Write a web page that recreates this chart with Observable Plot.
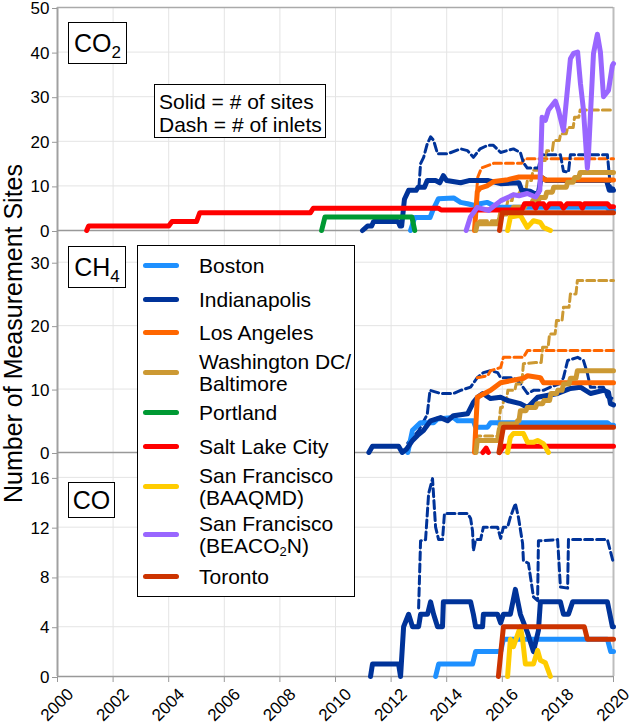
<!DOCTYPE html>
<html>
<head>
<meta charset="utf-8">
<script src="https://cdn.jsdelivr.net/npm/d3@7"></script>
<script src="https://cdn.jsdelivr.net/npm/@observablehq/plot@0.6"></script>
<style>
  html, body { margin: 0; padding: 0; background: #fff; }
  body { font-family: "Liberation Sans", Arial, sans-serif; color: #000; }
  #wrap { position: relative; width: 633px; height: 728px; overflow: hidden; background: #fff; }
  #wrap svg { position: absolute; left: 0; }
  .box { position: absolute; background: #fff; border: 1.5px solid #000; box-sizing: border-box; }
  .plabel { font-size: 25px; line-height: 1; padding: 0; display: flex; align-items: center; justify-content: center; }
  .plabel sub { font-size: 17px; vertical-align: -6px; line-height: 0; }
  .note { font-size: 21px; line-height: 23px; padding: 5px 0 0 4px; white-space: nowrap; }
  .legend { font-size: 21px; }
  .legend .sw { position: absolute; left: 5px; width: 36px; height: 5px; border-radius: 3px; }
  .legend .tx { position: absolute; left: 61px; line-height: 22px; white-space: nowrap; }
  .legend sub { font-size: 13px; vertical-align: -3px; line-height: 0; }
  #ylab { position: absolute; left: -162px; top: 321px; width: 350px; text-align: center; font-size: 25px; line-height: 25px; transform: rotate(-90deg); white-space: nowrap; }
</style>
</head>
<body>
<div id="wrap"></div>
<script>
// ---------- categories, ticks, colours ----------
const cities = ["Boston", "Indianapolis", "Los Angeles", "Washington DC/Baltimore", "Portland",
  "Salt Lake City", "San Francisco (BAAQMD)", "San Francisco (BEACO2N)", "Toronto"];
const cityColors = ["#1e90ff", "#003399", "#ff6600", "#cc9933", "#009933",
  "#ff0000", "#ffcc00", "#9966ff", "#cc3300"];
const legendLabels = ["Boston", "Indianapolis", "Los Angeles", "Washington DC/<br>Baltimore", "Portland",
  "Salt Lake City", "San Francisco<br>(BAAQMD)", "San Francisco<br>(BEACO<sub>2</sub>N)", "Toronto"];
const xTicks = [2000, 2002, 2004, 2006, 2008, 2010, 2012, 2014, 2016, 2018, 2020];
const co2Ticks = [0, 10, 20, 30, 40, 50];
const ch4Ticks = [0, 10, 20, 30];
const coTicks = [0, 4, 8, 12, 16];

// ---------- CO2 : [year, value] ----------
const co2_boston = [[2012.7,0],[2012.85,2.9],[2013.4,2.9],[2013.5,4.5],[2013.7,7.1],[2014.25,7.3],[2014.5,6.3],[2014.75,6],[2015.0,5.6],[2015.2,6],[2015.45,6.3],[2015.7,5.6],[2015.95,5.2],[2019.75,5.2],[2019.85,4.6],[2020,4.6]];
const co2_indy_sites = [[2010.97,0],[2011.15,1],[2011.3,1],[2011.37,2],[2012.25,2],[2012.32,1],[2012.38,1],[2012.48,7],[2012.63,9],[2012.9,9],[2012.97,9.7],[2013.2,9.7],[2013.3,11.2],[2013.6,11.2],[2013.75,10.7],[2013.88,12.3],[2014.0,11.2],[2014.5,10.7],[2014.8,11.2],[2015.5,11.2],[2015.94,10.5],[2016.6,10.7],[2016.7,9],[2017.0,8.8],[2017.15,8.3],[2017.3,8.5],[2017.4,12],[2017.6,11.2],[2019.75,11.2],[2019.85,9],[2020,9]];
const co2_indy_inlets = [[2013.0,9.7],[2013.06,15],[2013.17,16.4],[2013.3,19.4],[2013.42,21],[2013.53,20.2],[2013.67,17.2],[2014.03,17.2],[2014.5,18.3],[2014.75,17.9],[2014.96,16.4],[2015.2,18.3],[2015.47,19.1],[2015.68,19.1],[2015.94,17.5],[2016.4,18.3],[2016.65,17.5],[2016.76,15.2],[2016.9,14],[2017.3,14],[2017.4,17],[2018.09,17],[2018.2,13.3],[2018.38,13.1],[2018.45,17],[2019.78,17],[2019.89,9.7],[2020,9.5]];
const co2_la_sites = [[2015.0,0],[2015.1,8.7],[2015.2,9.5],[2015.45,10],[2015.7,11],[2016.2,11.4],[2016.6,12],[2017.4,12],[2017.55,11.3],[2020,11.3]];
const co2_la_inlets = [[2015.08,9],[2015.12,12],[2015.25,14],[2015.5,14.6],[2015.7,15.1],[2016.7,15.1],[2016.8,16.1],[2020,16.1]];
const co2_dc_sites = [[2015.05,0],[2015.1,1.5],[2015.85,1.5],[2015.95,3.7],[2016.15,3.7],[2016.2,4.5],[2016.35,4.5],[2016.4,5.2],[2016.8,5.2],[2016.85,6],[2017.05,6],[2017.1,6.7],[2017.3,6.7],[2017.35,7.4],[2017.55,7.4],[2017.6,8.6],[2017.8,8.6],[2017.85,9.7],[2018.3,9.7],[2018.35,10.8],[2018.55,10.8],[2018.6,11.9],[2018.75,11.9],[2018.8,13],[2020,13]];
const co2_dc_inlets = [[2015.05,0],[2015.1,2.2],[2015.85,2.2],[2015.95,5.2],[2016.15,5.2],[2016.2,6.7],[2016.35,6.7],[2016.4,8.2],[2016.6,8.2],[2016.65,9],[2016.85,9],[2016.9,11.2],[2017.05,11.2],[2017.1,13.5],[2017.35,13.5],[2017.4,15.7],[2017.55,15.7],[2017.6,17.9],[2017.8,17.9],[2017.85,20.2],[2018.05,20.2],[2018.1,21.7],[2018.3,21.7],[2018.35,23.1],[2018.55,23.1],[2018.6,25.4],[2018.75,25.4],[2018.8,27],[2020,27]];
const co2_portland = [[2009.5,0],[2009.62,3],[2012.75,3],[2012.85,0]];
const co2_slc = [[2001.05,0],[2001.12,1],[2004.0,1],[2004.12,2],[2005.0,2],[2005.12,4],[2009.1,4],[2009.2,5],[2013.7,5],[2013.8,4.6],[2016.7,4.6],[2016.8,6],[2017.1,6],[2017.2,5],[2017.27,6],[2017.48,6],[2017.58,5],[2017.7,6],[2018.1,6],[2018.2,5],[2018.33,6],[2018.8,6],[2018.88,5],[2018.95,6],[2019.78,6],[2019.88,5.3],[2020,5.3]];
const co2_baaqmd = [[2016.19,0],[2016.29,3],[2016.65,3.4],[2016.76,2.2],[2016.9,0.7],[2017.12,2.2],[2017.37,1.8],[2017.48,0.7],[2017.73,0]];
const co2_beacon = [[2014.7,0],[2014.85,3],[2015.1,5.2],[2015.5,4.5],[2015.7,5.5],[2015.95,6.7],[2016.4,8],[2016.6,7.8],[2016.9,8.3],[2017.2,7.5],[2017.35,9],[2017.43,25.4],[2017.55,24.7],[2017.66,27],[2017.91,29],[2018.02,27],[2018.2,22.4],[2018.45,38.5],[2018.56,39.7],[2018.71,40],[2018.81,33],[2018.92,27],[2019.06,14],[2019.1,17],[2019.28,39.7],[2019.42,44],[2019.53,40],[2019.64,30],[2019.82,31.4],[2019.96,37],[2020,37.4]];
const co2_toronto = [[2015.9,0],[2016.0,4],[2020,4]];

// ---------- CH4 ----------
const ch4_boston = [[2012.6,0],[2012.77,3.5],[2013.06,4.7],[2013.53,4.7],[2013.67,5.3],[2014.24,5.5],[2014.39,5],[2014.96,5],[2015.04,4],[2015.47,4],[2015.58,4.7],[2019.78,4.7],[2019.89,4.3],[2020,4.3]];
const ch4_indy_sites = [[2011.2,0],[2011.33,1],[2012.27,1],[2012.4,0],[2012.55,0.5],[2012.77,1.9],[2012.95,2.7],[2013.17,3.5],[2013.42,5],[2013.78,5.5],[2014.03,5],[2014.24,5.8],[2014.75,6.1],[2014.96,7.9],[2015.11,8.7],[2015.3,9.3],[2015.58,8.5],[2015.94,8.7],[2016.19,8.2],[2016.65,7.7],[2016.91,7.1],[2017.27,8.7],[2017.99,9.3],[2018.45,10.1],[2018.81,10.3],[2019.17,9.3],[2019.64,9.8],[2019.82,9.5],[2019.89,7.7],[2020,7.5]];
const ch4_indy_inlets = [[2012.6,1.5],[2012.8,2.5],[2013.0,3.5],[2013.3,6],[2013.4,9.8],[2013.78,9.3],[2014.24,9.3],[2014.5,9.8],[2014.86,10.3],[2015.1,11.8],[2015.32,12.6],[2015.58,12.9],[2015.83,12.6],[2015.94,11.8],[2016.4,11.8],[2016.65,10.9],[2016.91,9.3],[2017.12,9.8],[2017.48,9.8],[2017.73,10.3],[2018.09,10.9],[2018.2,11.8],[2018.35,14.5],[2018.71,15],[2018.92,14.5],[2019.06,12.5],[2019.17,10.3],[2019.64,10.3],[2019.78,8.7],[2020,8.5]];
const ch4_la_sites = [[2015.0,0],[2015.1,8.7],[2015.58,9.8],[2015.94,11],[2016.76,11.7],[2016.91,12.1],[2017.37,11.8],[2017.48,11],[2020,11]];
const ch4_la_inlets = [[2015.1,11.8],[2015.47,12.1],[2015.58,12.9],[2015.94,13.4],[2016.04,15],[2016.76,15],[2016.91,16.1],[2020,16.1]];
const ch4_dc_sites = [[2015.05,0],[2015.1,1.9],[2015.83,1.9],[2015.94,4.5],[2016.5,4.5],[2016.55,5],[2016.6,5],[2016.65,6.6],[2016.85,6.6],[2016.9,7.1],[2017.2,7.1],[2017.25,7.7],[2017.45,7.7],[2017.5,8.2],[2017.7,8.2],[2017.75,9.3],[2017.95,9.3],[2018.0,9.8],[2018.15,9.8],[2018.2,10.8],[2018.4,10.8],[2018.45,11.7],[2018.65,11.7],[2018.7,12.9],[2020,12.9]];
const ch4_dc_inlets = [[2015.05,0],[2015.1,2.6],[2015.83,2.6],[2015.94,7.1],[2016.0,7.1],[2016.05,8.2],[2016.15,8.2],[2016.2,9.8],[2016.45,9.8],[2016.5,10.8],[2016.7,10.8],[2016.76,14],[2017.2,14.2],[2017.4,14.2],[2017.45,16.6],[2017.65,16.6],[2017.7,18.7],[2017.9,18.7],[2017.95,20.8],[2018.15,20.8],[2018.2,22.9],[2018.4,22.9],[2018.45,25],[2018.65,25],[2018.7,27.1],[2020,27.1]];
const ch4_slc = [[2015.3,0],[2015.42,0.7],[2015.5,0],[2015.55,null],[2015.9,0],[2016.04,1],[2020,1]];
const ch4_baaqmd = [[2016.19,0],[2016.29,2.4],[2016.4,3],[2016.76,3],[2016.91,1.6],[2017.12,1.6],[2017.27,1.9],[2017.48,1.4],[2017.66,0]];
const ch4_toronto = [[2015.88,0],[2016.04,4],[2020,4]];

// ---------- CO ----------
const co_boston = [[2013.6,0],[2013.71,1],[2014.93,1],[2015.04,2],[2015.94,2],[2016.04,3],[2019.78,3],[2019.9,2],[2020,2]];
const co_indy_sites = [[2011.26,0],[2011.33,1],[2012.27,1],[2012.34,0],[2012.45,4],[2012.63,5],[2012.77,4],[2012.99,4],[2013.06,5],[2013.31,5],[2013.42,6],[2013.53,5],[2013.67,4],[2013.85,4],[2013.88,6],[2014.86,6],[2014.96,5],[2015.04,4],[2015.29,4],[2015.32,5],[2015.83,5],[2015.94,4.3],[2016.04,5],[2016.29,5],[2016.47,7],[2016.65,5],[2016.91,3.5],[2017.12,2],[2017.3,3.7],[2017.37,6],[2018.09,6],[2018.2,5],[2018.38,5],[2018.53,6],[2019.78,6],[2019.96,4],[2020,4]];
const co_indy_inlets = [[2012.99,5.5],[2013.06,10.9],[2013.24,11],[2013.35,14.7],[2013.49,15.9],[2013.6,12],[2013.71,11],[2013.85,11],[2013.92,13.1],[2014.75,13.1],[2014.86,12.7],[2014.93,11.7],[2014.96,10.1],[2015.04,11],[2015.22,11],[2015.32,12],[2015.83,12],[2015.94,11.1],[2016.04,12],[2016.19,12],[2016.29,12.8],[2016.47,13.9],[2016.58,12.8],[2016.73,10.7],[2016.76,9.3],[2016.94,9.1],[2017.12,6.4],[2017.27,6.1],[2017.3,10.9],[2017.99,11],[2018.09,7.2],[2018.35,7.1],[2018.38,11],[2019.78,11],[2020,9.1]];
const co_baaqmd = [[2016.19,0],[2016.29,3],[2016.4,2.4],[2016.65,4],[2016.73,3],[2016.83,1],[2017.12,1],[2017.27,2.1],[2017.37,1.3],[2017.55,1.1],[2017.73,0]];
const co_toronto = [[2015.86,0],[2016.04,4],[2018.95,4],[2019.06,3],[2020,3]];

// ---------- tables ----------
function toRows(list) {
  return list.flatMap(([city, kind, pts]) =>
    pts.map(([year, value]) => ({city, kind, id: city + "|" + kind, year, value})));
}
const co2Rows = toRows([
  ["Los Angeles", "inlets", co2_la_inlets], ["Washington DC/Baltimore", "inlets", co2_dc_inlets],
  ["Indianapolis", "inlets", co2_indy_inlets],
  ["Boston", "sites", co2_boston], ["Indianapolis", "sites", co2_indy_sites],
  ["Los Angeles", "sites", co2_la_sites], ["Washington DC/Baltimore", "sites", co2_dc_sites],
  ["Portland", "sites", co2_portland], ["Salt Lake City", "sites", co2_slc],
  ["San Francisco (BAAQMD)", "sites", co2_baaqmd], ["San Francisco (BEACO2N)", "sites", co2_beacon],
  ["Toronto", "sites", co2_toronto]
]);
const ch4Rows = toRows([
  ["Indianapolis", "inlets", ch4_indy_inlets], ["Los Angeles", "inlets", ch4_la_inlets],
  ["Washington DC/Baltimore", "inlets", ch4_dc_inlets],
  ["Boston", "sites", ch4_boston], ["Indianapolis", "sites", ch4_indy_sites],
  ["Los Angeles", "sites", ch4_la_sites], ["Washington DC/Baltimore", "sites", ch4_dc_sites],
  ["Salt Lake City", "sites", ch4_slc], ["San Francisco (BAAQMD)", "sites", ch4_baaqmd],
  ["Toronto", "sites", ch4_toronto]
]);
const coRows = toRows([
  ["Indianapolis", "inlets", co_indy_inlets],
  ["Boston", "sites", co_boston], ["Indianapolis", "sites", co_indy_sites],
  ["San Francisco (BAAQMD)", "sites", co_baaqmd], ["Toronto", "sites", co_toronto]
]);

const FONT = "'Liberation Sans', Arial, sans-serif";
const wrap = document.getElementById("wrap");

function panel({rows, yDomain, yTicks, top, height, marginTop, marginBottom, showX, topBorder}) {
  const marks = [
    Plot.gridX(xTicks, {stroke: "#e4e4e4", strokeOpacity: 1, strokeWidth: 1}),
    Plot.gridY(yTicks, {stroke: "#e4e4e4", strokeOpacity: 1, strokeWidth: 1}),
    Plot.ruleX([2020], {stroke: "#bdbdbd", strokeWidth: 2}),
    Plot.ruleY([0], {stroke: "#999", strokeWidth: 1.5}),
    Plot.line(rows.filter(d => d.kind === "inlets"), {x: "year", y: "value", z: "id", stroke: "city",
      strokeWidth: 3, strokeDasharray: "8,4"}),
    Plot.line(rows.filter(d => d.kind === "sites"), {x: "year", y: "value", z: "id", stroke: "city",
      strokeWidth: 5, strokeLinecap: "round", strokeLinejoin: "round"}),
    Plot.ruleX([2000], {stroke: "#a0a0a0", strokeWidth: 2}),
    Plot.axisY(yTicks, {tickSize: 5, tickPadding: 3, stroke: "#999", fill: "#000", fontSize: 17, dy: 1, label: null})
  ];
  if (topBorder) marks.push(Plot.ruleY([yDomain[1]], {stroke: "#aaa", strokeWidth: 1.5}));
  if (showX) {
    marks.push(Plot.axisX(xTicks, {tickSize: 6, tickFormat: () => "", stroke: "#999", label: null}));
    marks.push(Plot.text(xTicks, {x: d => d, frameAnchor: "bottom", text: d => String(d),
      rotate: -45, textAnchor: "end", lineAnchor: "middle", dx: 13, dy: 15, fontSize: 17, fill: "#000"}));
  }
  const svg = Plot.plot({
    width: 633, height, marginLeft: 57, marginRight: 20, marginTop, marginBottom,
    style: {fontFamily: FONT, fontSize: "18px", background: "transparent", overflow: "visible", color: "#000"},
    x: {domain: [2000, 2020], axis: showX ? undefined : null},
    y: {domain: yDomain},
    color: {domain: cities, range: cityColors},
    marks
  });
  svg.style.top = top + "px";
  wrap.appendChild(svg);
  return svg;
}

panel({rows: coRows, yDomain: [0, 18], yTicks: coTicks, top: 442, height: 286, marginTop: 10, marginBottom: 52, showX: true});
panel({rows: ch4Rows, yDomain: [0, 35], yTicks: ch4Ticks, top: 220, height: 242, marginTop: 10, marginBottom: 10});
panel({rows: co2Rows, yDomain: [0, 50], yTicks: co2Ticks, top: 0, height: 240, marginTop: 7, marginBottom: 10, topBorder: true});

// ---------- annotations ----------
function addDiv(cls, style, html) {
  const d = document.createElement("div");
  d.className = cls;
  Object.assign(d.style, style);
  d.innerHTML = html;
  wrap.appendChild(d);
  return d;
}
addDiv("box plabel", {left: "68px", top: "22px", width: "59px", height: "42px"}, "<span>CO<sub>2</sub></span>");
addDiv("box plabel", {left: "68px", top: "246px", width: "58px", height: "42px"}, "<span>CH<sub>4</sub></span>");
addDiv("box plabel", {left: "68px", top: "482px", width: "47px", height: "36px"}, "<span>CO</span>");
addDiv("box note", {left: "154px", top: "84px", width: "172px", height: "54px"}, "Solid = # of sites<br>Dash = # of inlets");

const legend = addDiv("box legend", {left: "137px", top: "245px", width: "218px", height: "352px"}, "");
const swatchY = [21, 55, 88, 128, 168, 202, 242, 290, 332];
cities.forEach((c, i) => {
  const sw = document.createElement("div");
  sw.className = "sw";
  sw.style.top = (swatchY[i] - 2.5 - 1.5) + "px";
  sw.style.background = cityColors[i];
  legend.appendChild(sw);
  const tx = document.createElement("div");
  tx.className = "tx";
  const lines = legendLabels[i].split("<br>").length;
  tx.style.top = (swatchY[i] - 11 * lines - 1.5) + "px";
  tx.innerHTML = legendLabels[i];
  legend.appendChild(tx);
});

const yl = addDiv("", {}, "");
yl.id = "ylab";
yl.textContent = "Number of Measurement Sites";
</script>
</body>
</html>
